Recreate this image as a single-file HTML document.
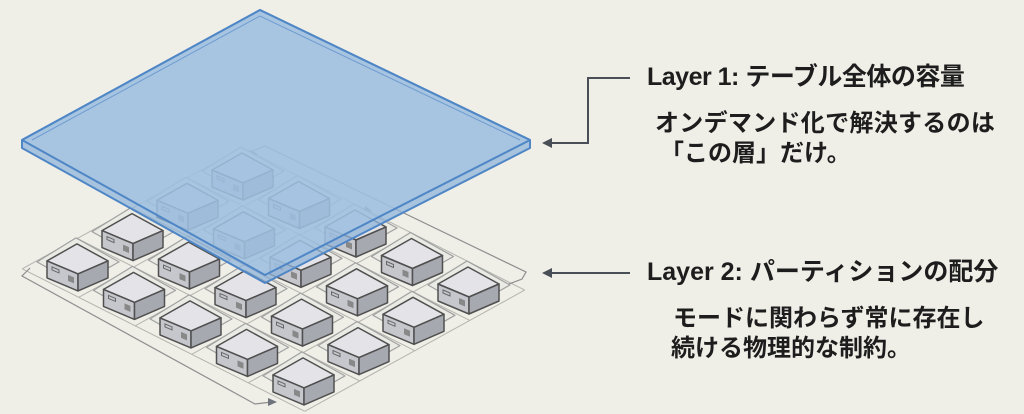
<!DOCTYPE html>
<html><head><meta charset="utf-8"><style>
html,body{margin:0;padding:0;background:#efeee7;}
#w{position:relative;width:1024px;height:414px;overflow:hidden;background:#efeee7;}
.t{position:absolute;font-family:"Liberation Sans","Noto Sans CJK JP",sans-serif;font-weight:bold;color:#1d1d1d;white-space:nowrap;line-height:1;}
</style></head><body><div id="w">
<svg id="s" width="1024" height="414" viewBox="0 0 1024 414" xmlns="http://www.w3.org/2000/svg" style="position:absolute;left:0;top:0">
<g id="grid" fill="none" stroke="#b4b4ae" stroke-width="1"></g>
<g id="wires" fill="none" stroke="#8e8e8e" stroke-width="1.2">
<path d="M30,268 L22,276 L255,404 L272,402"/>
<path d="M250,152 L265,146 L526,272 L522,279 L488,292"/>
</g>
<g id="arrows" fill="#6e737c">
<polygon points="258,154 250,150 250,158"/>
<polygon points="485,293 493,287 494,295"/>
<polygon points="372,211 365,206 364,214"/>
<polygon points="277,402 268,398 268,406"/>
</g>
<g id="boxes"></g>
<g id="plate">
<path d="M22,140 L260,10 L530,140 L530,148 L265,283 L22,148 Z" fill="#8fb4da" fill-opacity="0.75" stroke="#4f86c6" stroke-width="2" stroke-linejoin="round"/>
<path d="M22,140 L260,10 L530,140 L265,275 Z" fill="#a8c6e4" fill-opacity="0.55" stroke="#4f86c6" stroke-width="2" stroke-linejoin="round"/>
<path d="M32,140 L260,16 L520,140" fill="none" stroke="#6f9bd0" stroke-width="1"/>
</g>
<g fill="none" stroke="#4a4f57" stroke-width="2">
<path d="M630,78 L588,78 L588,143 L548,143"/>
<path d="M630,273 L548,273"/>
</g>
<polygon points="542,143 552,138 552,148" fill="#4a4f57"/>
<polygon points="542,273 552,268 552,278" fill="#4a4f57"/>
</svg>
<div class="t" style="left:647px;top:65px;font-size:25px;letter-spacing:-0.5px;">Layer 1: テーブル全体の容量</div>
<div class="t" style="left:655px;top:112px;font-size:24px;letter-spacing:0.3px;">オンデマンド化で解決するのは</div>
<div class="t" style="left:660px;top:142px;font-size:24px;">「この層」だけ。</div>
<div class="t" style="left:647px;top:260px;font-size:25px;letter-spacing:0px;">Layer 2: パーティションの配分</div>
<div class="t" style="left:673px;top:307px;font-size:24px;">モードに関わらず常に存在し</div>
<div class="t" style="left:671px;top:337px;font-size:24px;">続ける物理的な制約。</div>
</div>
<script>
function P(i,j,d){return [243+56.5*i-55*j,183+28.5*i+30.3*j+(d||0)];}
var gh='';
for(var j=-0.5;j<=3.5;j+=1){var a=P(-0.5,j,-6),b=P(4.5,j,-6);gh+='<path d="M'+a+' L'+b+'"/>';}
for(var i=-0.5;i<=4.5;i+=1){var a=P(i,-0.5,-6),b=P(i,3.5,-6);gh+='<path d="M'+a+' L'+b+'"/>';}
document.getElementById('grid').innerHTML=gh;
var c=[];for(var i=0;i<5;i++)for(var j=0;j<4;j++)c.push([i,j]);
c.sort(function(a,b){return (a[0]+a[1])-(b[0]+b[1]);});
var g=document.getElementById('boxes'),h='';
c.forEach(function(q){var p=P(q[0],q[1]);var x=p[0],y=p[1];
h+='<path d="M'+(x-41)+','+(y-12)+' L'+(x-2)+','+(y-36)+' L'+(x+41)+','+(y-12)+' L'+x+','+(y+11)+' Z" fill="#ebebe5" stroke="#a0a0a0" stroke-width="1.2" stroke-linejoin="round"/>';
h+='<path d="M'+(x-31)+','+(y-13)+' L'+(x-1)+','+(y-30)+' L'+(x+30)+','+(y-13)+' L'+x+','+y+' Z" fill="#e4e4e8" stroke="#505050" stroke-width="1.5" stroke-linejoin="round"/>';
h+='<path d="M'+(x-31)+','+(y-13)+' L'+x+','+y+' L'+x+','+(y+17)+' L'+(x-31)+','+(y+4)+' Z" fill="#c6c7cd" stroke="#505050" stroke-width="1.5" stroke-linejoin="round"/>';
h+='<path d="M'+x+','+y+' L'+(x+30)+','+(y-13)+' L'+(x+30)+','+(y+4)+' L'+x+','+(y+17)+' Z" fill="#a7a9b0" stroke="#505050" stroke-width="1.5" stroke-linejoin="round"/>';
h+='<path d="M'+(x-26)+','+(y-7)+' l7,3 l0,3 l-7,-3 z" fill="none" stroke="#666" stroke-width="1"/>';
h+='<path d="M'+(x-10)+','+(y+1)+' l6,2.5 l0,6 l-6,-2.5 z" fill="#888"/>';});
g.innerHTML=h;
</script>
</body></html>
